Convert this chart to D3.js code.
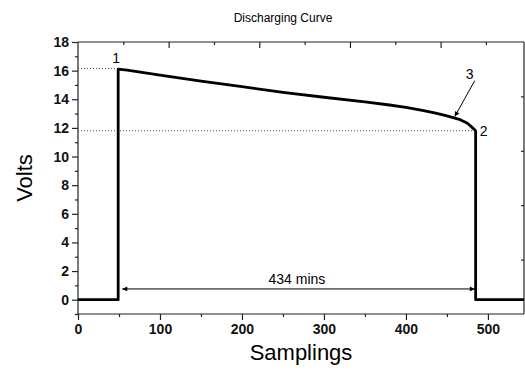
<!DOCTYPE html>
<html lang="en">
<head>
<meta charset="UTF-8">
<title>Discharging Curve</title>
<script src="https://d3js.org/d3.v7.min.js"></script>
<style>
  body { margin: 0; background: #fff; }
  svg { display: block; font-family: "Liberation Sans", Arial, sans-serif; }
  .tick-label { font-weight: bold; font-size: 14px; fill: #111; }
</style>
</head>
<body>
<div id="chart"></div>
<script>
// Discharge data
const samplings = [0, 49, 49, 60, 100, 150, 200, 250, 300, 350, 380, 400, 420, 435, 450, 465, 475, 480, 485, 485, 544];
const volts = [0, 0, 16.1, 16.03, 15.68, 15.26, 14.88, 14.48, 14.14, 13.82, 13.6, 13.43, 13.23, 13.05, 12.84, 12.6, 12.32, 12.07, 11.8, 0, 0];
const xTicks = [0, 100, 200, 300, 400, 500];
const yTicks = [0, 2, 4, 6, 8, 10, 12, 14, 16, 18];
const startPoint = {x: 49, y: 16.15};
const endPoint = {x: 485, y: 11.8};
const kneePoint = {x: 462, y: 12.65};
const spanLabel = "434 mins";

const width = 525, height = 373;
const margin = {left: 78, right: 1, top: 42, bottom: 59};

const svg = d3.select('#chart').append('svg')
  .attr('width', width)
  .attr('height', height);

const x = d3.scaleLinear().domain([0, 544]).range([margin.left, width - margin.right]);
const y = d3.scaleLinear().domain([-1, 18]).range([height - margin.bottom, margin.top]);
// frame axes on top/right have their own tick spacing
const xTop = d3.scaleLinear().domain([0, 9.84]).range([margin.left, width - margin.right]);
const yRight = d3.scaleLinear().domain([0, 5]).range([height - margin.bottom, margin.top]);

const x0 = margin.left, x1 = width - margin.right;
const y0 = height - margin.bottom, y1 = margin.top;

// arrow markers
const defs = svg.append('defs');
defs.append('marker')
  .attr('id', 'arr')
  .attr('viewBox', '0 0 10 10')
  .attr('refX', 10).attr('refY', 5)
  .attr('markerWidth', 9).attr('markerHeight', 5)
  .attr('markerUnits', 'userSpaceOnUse')
  .attr('orient', 'auto-start-reverse')
  .append('path').attr('d', 'M0,0L10,5L0,10Z').attr('fill', '#000');

// frame
const frame = svg.append('g').attr('stroke', '#222').attr('stroke-width', 1.2).attr('fill', 'none');
frame.append('line').attr('x1', x0).attr('x2', x1).attr('y1', y0).attr('y2', y0);
frame.append('line').attr('x1', x0).attr('x2', x0).attr('y1', y0).attr('y2', y1);
frame.append('line').attr('x1', x0).attr('x2', x1).attr('y1', y1).attr('y2', y1);
frame.append('line').attr('x1', x1).attr('x2', x1).attr('y1', y0).attr('y2', y1);

// bottom axis
const bottom = svg.append('g').attr('transform', `translate(0,${y0})`)
  .call(d3.axisBottom(x).tickValues(xTicks).tickSize(6).tickPadding(4).tickFormat(d3.format('d')));
bottom.select('.domain').remove();
bottom.selectAll('.tick line').attr('stroke', '#222').attr('stroke-width', 1.2);
bottom.selectAll('.tick text').attr('class', 'tick-label').attr('font-family', null).attr('font-size', null);
svg.append('g').attr('transform', `translate(0,${y0})`)
  .call(d3.axisBottom(x).tickValues([50, 150, 250, 350, 450]).tickSize(3).tickFormat(''))
  .call(g => g.select('.domain').remove())
  .selectAll('.tick line').attr('stroke', '#222').attr('stroke-width', 1.2);

// left axis
const left = svg.append('g').attr('transform', `translate(${x0},0)`)
  .call(d3.axisLeft(y).tickValues(yTicks).tickSize(6).tickPadding(3).tickFormat(d3.format('d')));
left.select('.domain').remove();
left.selectAll('.tick line').attr('stroke', '#222').attr('stroke-width', 1.2);
left.selectAll('.tick text').attr('class', 'tick-label').attr('font-family', null).attr('font-size', null);
svg.append('g').attr('transform', `translate(${x0},0)`)
  .call(d3.axisLeft(y).tickValues(d3.range(-1, 18, 2)).tickSize(3).tickFormat(''))
  .call(g => g.select('.domain').remove())
  .selectAll('.tick line').attr('stroke', '#222').attr('stroke-width', 1.2);

// top axis, ticks pointing in
svg.append('g').attr('transform', `translate(0,${y1})`)
  .call(d3.axisBottom(xTop).tickValues(d3.range(1, 10)).tickSizeInner(1).tickSizeOuter(0).tickFormat(''))
  .call(g => g.select('.domain').remove())
  .selectAll('.tick line')
  .attr('y2', d => d % 2 === 0 ? 6 : 3)
  .attr('stroke', '#222').attr('stroke-width', 1.2);

// right axis, ticks pointing in
svg.append('g').attr('transform', `translate(${x1},0)`)
  .call(d3.axisLeft(yRight).tickValues([1, 2, 3, 4]).tickSize(3).tickFormat(''))
  .call(g => g.select('.domain').remove())
  .selectAll('.tick line').attr('stroke', '#222').attr('stroke-width', 1.2);

// dotted guide lines
const guides = svg.append('g').attr('stroke', '#444').attr('stroke-width', 1).attr('stroke-dasharray', '1,2');
guides.append('line').attr('x1', x0).attr('x2', x(startPoint.x)).attr('y1', y(startPoint.y)).attr('y2', y(startPoint.y));
guides.append('line').attr('x1', x0).attr('x2', x(endPoint.x)).attr('y1', y(endPoint.y)).attr('y2', y(endPoint.y));

// curve
const pts = samplings.map((s, i) => [s, volts[i]]);
svg.append('path')
  .datum(pts)
  .attr('fill', 'none')
  .attr('stroke', '#000')
  .attr('stroke-width', 2.8)
  .attr('stroke-linejoin', 'round')
  .attr('d', d3.line().x(d => x(d[0])).y(d => y(d[1])));

// duration arrow
const spanY = y(0.75);
svg.append('line')
  .attr('x1', x(startPoint.x + 5)).attr('x2', x(endPoint.x - 1))
  .attr('y1', spanY).attr('y2', spanY)
  .attr('stroke', '#000').attr('stroke-width', 1)
  .attr('marker-start', 'url(#arr)').attr('marker-end', 'url(#arr)');
svg.append('text')
  .attr('x', x((startPoint.x + endPoint.x) / 2))
  .attr('y', spanY - 5)
  .attr('text-anchor', 'middle')
  .attr('font-size', 14)
  .text(spanLabel);

// point labels
svg.append('text').attr('x', x(startPoint.x) - 2).attr('y', y(startPoint.y) - 5)
  .attr('text-anchor', 'middle').attr('font-size', 14).text('1');
svg.append('text').attr('x', x(endPoint.x) + 4).attr('y', y(endPoint.y) + 5)
  .attr('font-size', 14).text('2');
svg.append('text').attr('x', x(kneePoint.x) + 9).attr('y', y(kneePoint.y) - 40)
  .attr('font-size', 14).text('3');
svg.append('line')
  .attr('x1', x(kneePoint.x) + 18).attr('y1', y(kneePoint.y) - 38)
  .attr('x2', x(kneePoint.x) - 2).attr('y2', y(kneePoint.y) - 2)
  .attr('stroke', '#000').attr('stroke-width', 1)
  .attr('marker-end', 'url(#arr)');

// titles
svg.append('text')
  .attr('x', 283).attr('y', 22)
  .attr('text-anchor', 'middle').attr('font-size', 12)
  .text('Discharging Curve');
svg.append('text')
  .attr('x', 301).attr('y', 360)
  .attr('text-anchor', 'middle').attr('font-size', 22)
  .text('Samplings');
svg.append('text')
  .attr('transform', `translate(32,${(y0 + y1) / 2}) rotate(-90)`)
  .attr('text-anchor', 'middle').attr('font-size', 22)
  .text('Volts');
</script>
</body>
</html>
